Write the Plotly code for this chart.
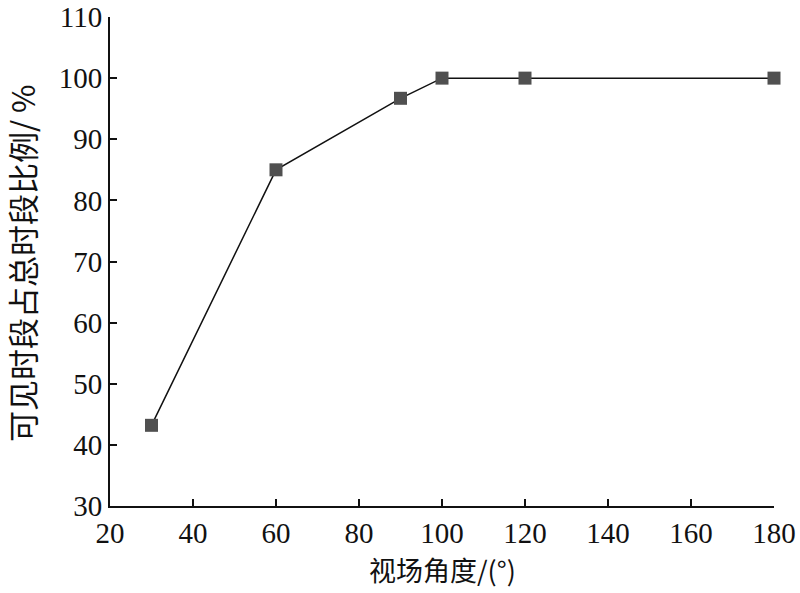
import plotly.graph_objects as go

angles = [30, 60, 90, 100, 120, 180]
ratios = [43.2, 85.0, 96.7, 100.0, 100.0, 100.0]
x_ticks = [20, 40, 60, 80, 100, 120, 140, 160, 180]
y_ticks = [30, 40, 50, 60, 70, 80, 90, 100, 110]
x_title = "视场角度/(°)"
y_title = "可见时段占总时段比例/ %"

fig = go.Figure()
fig.add_trace(go.Scatter(
    x=angles, y=ratios, mode="lines+markers",
    line=dict(color="#111111", width=1.5),
    marker=dict(symbol="square", size=13, color="#505050"),
    showlegend=False, cliponaxis=False,
))

font_num = "Liberation Serif, Times New Roman, serif"
font_cjk = "Noto Sans CJK SC, Liberation Serif, serif"

W, H = 800, 593
px0, px1, py0, py1 = 110, 774, 17, 506
L, T = px0, py0
R, B = W - px1, H - py1
pw, ph = px1 - px0, py1 - py0

fig.update_layout(
    width=W, height=H,
    margin=dict(l=L, r=R, t=T, b=B),
    paper_bgcolor="white", plot_bgcolor="white",
    xaxis=dict(
        range=[20, 180], tickvals=x_ticks, ticktext=[str(v) for v in x_ticks],
        showgrid=False, zeroline=False, showline=True, linecolor="#111111", linewidth=2,
        ticks="inside", ticklen=7, tickwidth=2, tickcolor="#111111", automargin=False,
        tickfont=dict(family=font_num, size=29, color="#111111"),
    ),
    yaxis=dict(
        range=[30, 110], tickvals=y_ticks, ticktext=[str(v) for v in y_ticks],
        showgrid=False, zeroline=False, showline=True, linecolor="#111111", linewidth=2,
        ticks="inside", ticklen=7, tickwidth=2, tickcolor="#111111", automargin=False,
        tickfont=dict(family=font_num, size=29, color="#111111"),
    ),
    annotations=[
        dict(text=x_title, xref="paper", yref="paper", x=0.5, y=-(569 - py1) / ph,
             xanchor="center", yanchor="middle", showarrow=False,
             font=dict(family=font_cjk, size=27, color="#111111")),
        dict(text=y_title, xref="paper", yref="paper", x=(21 - px0) / pw, y=(py1 - 263) / ph,
             xanchor="center", yanchor="middle", showarrow=False, textangle=-90,
             font=dict(family=font_cjk, size=31, color="#111111")),
    ],
)

fig.write_html("out.html", config={"displayModeBar": False},
               post_script="document.body.style.margin='0';")
